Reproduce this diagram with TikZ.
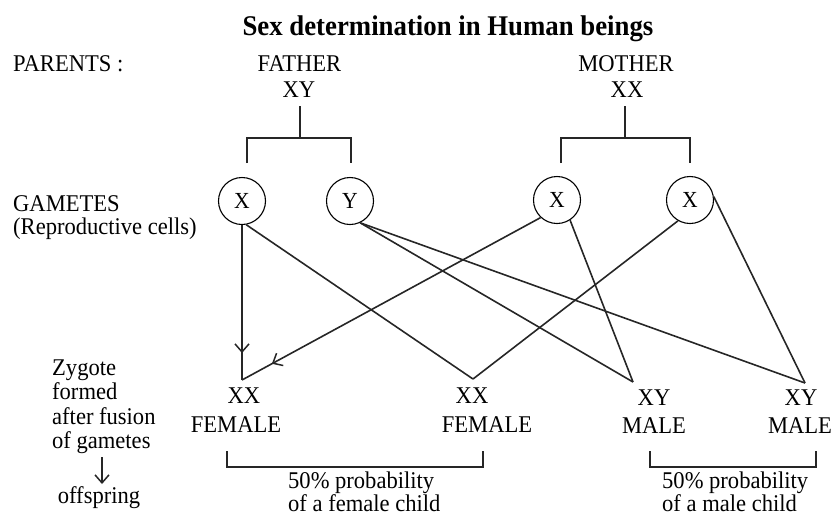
\documentclass[tikz,border=0pt]{standalone}
\usepackage{fontspec}
\setmainfont{Liberation Serif}[FakeStretch=0.94]
\usetikzlibrary{arrows.meta,decorations.markings}
\tikzset{
  lab/.style={inner sep=0pt, font=\fontsize{24}{25}\selectfont, text=black},
  ttl/.style={inner sep=0pt, font=\fontsize{28.5}{30}\selectfont\bfseries},
  gam/.style={circle, draw, line width=1.1pt, minimum size=47pt, inner sep=0pt, font=\fontsize{23}{24}\selectfont},
  conn/.style={line width=1.6pt, draw=black!85},
  brk/.style={line width=1.3pt, draw=black!85},
  tip/.style={-{Straight Barb[length=8pt,width=14pt,line width=1.5pt]}},
  midarrow/.style={postaction={decorate,decoration={markings,mark=at position #1 with {\arrow[line width=1.5pt]{Straight Barb[length=8pt,width=14pt]}}}}}
}
\begin{document}
\begin{tikzpicture}[x=1pt,y=-1pt]
\useasboundingbox (0,0) rectangle (835,515);
% title
\node[ttl, anchor=base] (title) at (448,35) {Sex determination in Human beings};
% parents
\node[lab, anchor=base west] (parents) at (13,71) {PARENTS :};
\node[lab, anchor=base] (father) at (299.5,71) {FATHER};
\node[lab, anchor=base] (fxy) at (299,97) {XY};
\node[lab, anchor=base] (mother) at (626,71) {MOTHER};
\node[lab, anchor=base] (mxx) at (627,97) {XX};
% brackets
\draw[brk] (300,106) -- (300,138);
\draw[brk] (247,163) -- (247,138) -- (351,138) -- (351,163);
\draw[brk] (625,106) -- (625,138);
\draw[brk] (561,163) -- (561,138) -- (690,138) -- (690,163);
% gametes
\node[lab, anchor=base west] (gam1) at (13,211) {GAMETES};
\node[lab, anchor=base west] (gam2) at (13,234) {(Reproductive cells)};
\node[gam] (fx) at (242,201) {X};
\node[gam] (fy) at (350,201) {Y};
\node[gam] (mx1) at (557,200) {X};
\node[gam] (mx2) at (690,200) {X};
% meeting points
\coordinate (m1) at (242,380);
\coordinate (m2) at (473,379);
\coordinate (m3) at (633,382);
\coordinate (m4) at (805,383);
% connectors
\draw[conn, midarrow=0.826] (fx.south) -- (m1);
\draw[conn, midarrow=0.90] (mx1.-133) -- (m1);
\draw[conn] (fx.-80) -- (m2);
\draw[conn] (mx2.-120) -- (m2);
\draw[conn] (fy.-65) -- (m3);
\draw[conn] (mx1.-57) -- (m3);
\draw[conn] (fy.-65) -- (m4);
\draw[conn] (mx2.8) -- (m4);
% offspring
\node[lab, anchor=base] (o1a) at (244,403) {XX};
\node[lab, anchor=base] (o1b) at (236,432) {FEMALE};
\node[lab, anchor=base] (o2a) at (472,403) {XX};
\node[lab, anchor=base] (o2b) at (487,432) {FEMALE};
\node[lab, anchor=base] (o3a) at (654,405) {XY};
\node[lab, anchor=base] (o3b) at (654,433) {MALE};
\node[lab, anchor=base] (o4a) at (801,405) {XY};
\node[lab, anchor=base] (o4b) at (800,433) {MALE};
% zygote note
\node[lab, anchor=base west] (z1) at (52,375) {Zygote};
\node[lab, anchor=base west] (z2) at (52,399) {formed};
\node[lab, anchor=base west] (z3) at (52,424) {after fusion};
\node[lab, anchor=base west] (z4) at (52,448) {of gametes};
\node[lab, anchor=base] (off) at (99,503) {offspring};
\coordinate (a1) at (102,457);
\coordinate (a2) at (102,484);
\draw[brk, tip] (a1) -- (a2);
% bottom brackets
\draw[brk] (227,451) -- (227,467) -- (483,467) -- (483,451);
\draw[brk] (650,451) -- (650,467) -- (816,467) -- (816,451);
\node[lab, anchor=base west] (pf1) at (288,488) {50\% probability};
\node[lab, anchor=base west] (pf2) at (288,511) {of a female child};
\node[lab, anchor=base west] (pm1) at (662,488) {50\% probability};
\node[lab, anchor=base west] (pm2) at (662,511) {of a male child};
\end{tikzpicture}
\end{document}
